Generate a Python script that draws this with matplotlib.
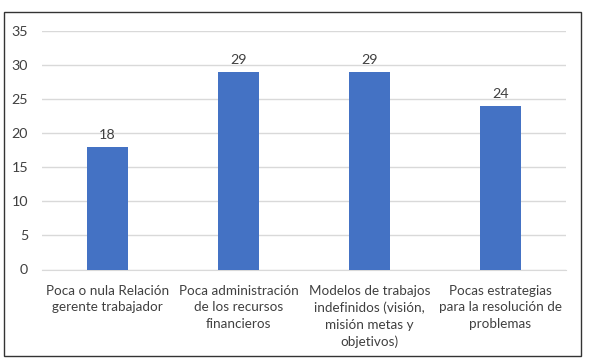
import matplotlib
matplotlib.use('Agg')
import matplotlib.pyplot as plt
from matplotlib.patches import Rectangle

# ─── datos ──────────────────────────────────────────────────────────
categorias = [
    "Poca o nula Relación\ngerente trabajador",
    "Poca administración\nde los recursos\nfinancieros",
    "Modelos de trabajos\nindefinidos (visión,\nmisión metas y\nobjetivos)",
    "Pocas estrategias\npara la resolución de\nproblemas",
]
valores = [18, 29, 29, 24]
yticks = [0, 5, 10, 15, 20, 25, 30, 35]

# ─── estilo ─────────────────────────────────────────────────────────
plt.rcParams['font.family'] = ['Lato', 'DejaVu Sans']
TEXT = '#404040'
BAR = '#4472C4'
GRID = '#D9D9D9'
FS = 9.7

fig = plt.figure(figsize=(5.89, 3.64), dpi=100)
fig.patch.set_facecolor('white')
# marco exterior del gráfico
fig.patches.append(Rectangle((4 / 589, 1 - 356 / 364), 577 / 589, 344 / 364,
                             transform=fig.transFigure, fill=False,
                             edgecolor='#333333', linewidth=1.0))

ax = fig.add_axes([42 / 589, 1 - 269.5 / 364, 524 / 589, 238.5 / 364])
x = range(len(categorias))
bars = ax.bar(x, valores, width=0.31, color=BAR, zorder=3)
for b, v in zip(bars, valores):
    ax.text(b.get_x() + b.get_width() / 2, v + 0.9, str(v), ha='center',
            va='bottom', fontsize=10.3, color=TEXT)

ax.set_xlim(-0.5, len(categorias) - 0.5)
ax.set_ylim(0, 35)
ax.set_yticks(yticks)
ax.set_xticks(list(x))
ax.set_xticklabels(categorias, fontsize=FS, color=TEXT, linespacing=1.45)
ax.tick_params(axis='y', colors=TEXT, labelsize=10.3, length=0, pad=10)
ax.tick_params(axis='x', length=0, pad=11)
ax.grid(axis='y', color=GRID, linewidth=1.0, zorder=0)
for s in ['top', 'right', 'left']:
    ax.spines[s].set_visible(False)
ax.spines['bottom'].set_color(GRID)

fig.savefig('out.png', dpi=100)
